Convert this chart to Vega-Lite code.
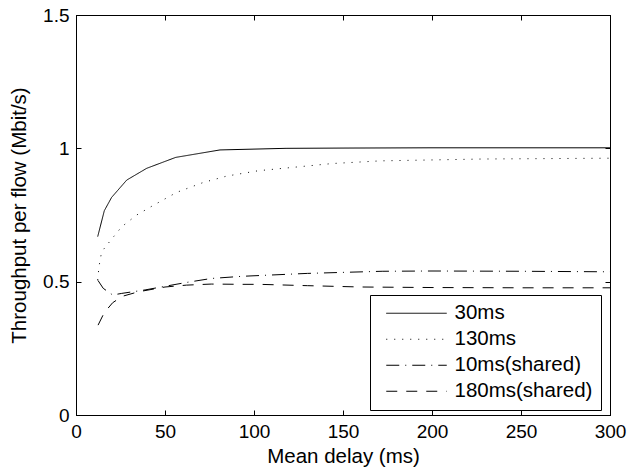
{
  "$schema": "https://vega.github.io/schema/vega-lite/v6.json",
  "autosize": {"type": "none"},
  "width": 534,
  "height": 400,
  "padding": {"left": 76, "top": 15, "right": 17, "bottom": 59},
  "background": "white",
  "config": {
    "font": "Liberation Sans",
    "view": {"stroke": "black", "strokeWidth": 1},
    "axis": {
      "grid": false,
      "domainColor": "black",
      "domainWidth": 1,
      "tickColor": "black",
      "tickWidth": 1,
      "tickSize": -5,
      "labelFlush": false,
      "labelOverlap": false,
      "labelFont": "Liberation Sans",
      "labelFontSize": 19,
      "labelColor": "black",
      "titleFont": "Liberation Sans",
      "titleFontSize": 20.5,
      "titleFontWeight": "normal",
      "titleColor": "black"
    },
    "legend": {
      "labelFont": "Liberation Sans",
      "labelFontSize": 20.5,
      "labelColor": "black"
    }
  },
  "datasets": {
    "curves": [
      {"series": "30ms", "delay": 12.2, "tput": 0.669},
      {"series": "30ms", "delay": 15.9, "tput": 0.766},
      {"series": "30ms", "delay": 20.0, "tput": 0.816},
      {"series": "30ms", "delay": 28.5, "tput": 0.881},
      {"series": "30ms", "delay": 39.7, "tput": 0.925},
      {"series": "30ms", "delay": 56.0, "tput": 0.966},
      {"series": "30ms", "delay": 80.9, "tput": 0.994},
      {"series": "30ms", "delay": 118, "tput": 1.0},
      {"series": "30ms", "delay": 150, "tput": 1.001},
      {"series": "30ms", "delay": 200, "tput": 1.002},
      {"series": "30ms", "delay": 250, "tput": 1.002},
      {"series": "30ms", "delay": 300, "tput": 1.002},
      {"series": "130ms", "delay": 12.2, "tput": 0.506},
      {"series": "130ms", "delay": 12.9, "tput": 0.556},
      {"series": "130ms", "delay": 14.4, "tput": 0.612},
      {"series": "130ms", "delay": 19.1, "tput": 0.652},
      {"series": "130ms", "delay": 25.7, "tput": 0.706},
      {"series": "130ms", "delay": 34.1, "tput": 0.75},
      {"series": "130ms", "delay": 43.4, "tput": 0.786},
      {"series": "130ms", "delay": 56.6, "tput": 0.835},
      {"series": "130ms", "delay": 71.5, "tput": 0.872},
      {"series": "130ms", "delay": 84.7, "tput": 0.896},
      {"series": "130ms", "delay": 102.4, "tput": 0.916},
      {"series": "130ms", "delay": 144, "tput": 0.943},
      {"series": "130ms", "delay": 171, "tput": 0.953},
      {"series": "130ms", "delay": 229, "tput": 0.96},
      {"series": "130ms", "delay": 300, "tput": 0.963},
      {"series": "10ms(shared)", "delay": 12.3, "tput": 0.505},
      {"series": "10ms(shared)", "delay": 15.3, "tput": 0.475},
      {"series": "10ms(shared)", "delay": 20.6, "tput": 0.45},
      {"series": "10ms(shared)", "delay": 25.7, "tput": 0.456},
      {"series": "10ms(shared)", "delay": 38.8, "tput": 0.469},
      {"series": "10ms(shared)", "delay": 52, "tput": 0.485},
      {"series": "10ms(shared)", "delay": 62, "tput": 0.497},
      {"series": "10ms(shared)", "delay": 76, "tput": 0.512},
      {"series": "10ms(shared)", "delay": 93, "tput": 0.52},
      {"series": "10ms(shared)", "delay": 103, "tput": 0.523},
      {"series": "10ms(shared)", "delay": 130, "tput": 0.531},
      {"series": "10ms(shared)", "delay": 172, "tput": 0.539},
      {"series": "10ms(shared)", "delay": 200, "tput": 0.54},
      {"series": "10ms(shared)", "delay": 250, "tput": 0.539},
      {"series": "10ms(shared)", "delay": 300, "tput": 0.537},
      {"series": "180ms(shared)", "delay": 12.4, "tput": 0.337},
      {"series": "180ms(shared)", "delay": 15.9, "tput": 0.384},
      {"series": "180ms(shared)", "delay": 20.6, "tput": 0.421},
      {"series": "180ms(shared)", "delay": 26, "tput": 0.445},
      {"series": "180ms(shared)", "delay": 35, "tput": 0.462},
      {"series": "180ms(shared)", "delay": 50, "tput": 0.48},
      {"series": "180ms(shared)", "delay": 62, "tput": 0.487},
      {"series": "180ms(shared)", "delay": 76, "tput": 0.491},
      {"series": "180ms(shared)", "delay": 93, "tput": 0.49},
      {"series": "180ms(shared)", "delay": 103, "tput": 0.49},
      {"series": "180ms(shared)", "delay": 130, "tput": 0.485},
      {"series": "180ms(shared)", "delay": 160, "tput": 0.48},
      {"series": "180ms(shared)", "delay": 200, "tput": 0.478},
      {"series": "180ms(shared)", "delay": 250, "tput": 0.477},
      {"series": "180ms(shared)", "delay": 300, "tput": 0.477}
    ]
  },
  "data": {"name": "curves"},
  "layer": [
    {
      "mark": {"type": "line", "color": "black", "strokeWidth": 1, "clip": true},
      "encoding": {
        "x": {
          "field": "delay", "type": "quantitative",
          "scale": {"domain": [0, 300], "nice": false, "zero": false},
          "axis": {"orient": "bottom", "values": [0, 50, 100, 150, 200, 250, 300], "title": "Mean delay (ms)", "labelPadding": 12, "titlePadding": 5}
        },
        "y": {
          "field": "tput", "type": "quantitative",
          "scale": {"domain": [0, 1.5], "nice": false, "zero": false},
          "axis": {"orient": "left", "values": [0, 0.5, 1, 1.5], "format": "~g", "title": "Throughput per flow (Mbit/s)", "labelPadding": 12, "titlePadding": 13}
        },
        "strokeDash": {
          "field": "series", "type": "nominal", "sort": null,
          "scale": {
            "domain": ["30ms", "130ms", "10ms(shared)", "180ms(shared)"],
            "range": [[1, 0], [1, 7], [13, 6, 1, 6], [11, 9]]
          },
          "legend": {
            "title": null,
            "orient": "none",
            "legendX": 294,
            "legendY": 280,
            "padding": 8,
            "strokeColor": "black",
            "fillColor": "white",
            "cornerRadius": 0,
            "symbolType": "M-0.4,0H11.7",
            "symbolSize": 100,
            "symbolStrokeColor": "black",
            "symbolStrokeWidth": 1,
            "symbolFillColor": "transparent",
            "labelOffset": 56,
            "rowPadding": 5
          }
        }
      }
    },
    {
      "mark": {"type": "line", "color": "black", "strokeWidth": 1, "opacity": 0},
      "encoding": {
        "x": {
          "field": "delay", "type": "quantitative",
          "scale": {"domain": [0, 300], "nice": false, "zero": false},
          "axis": {"orient": "top", "values": [0, 50, 100, 150, 200, 250, 300], "labels": false, "title": null}
        },
        "y": {
          "field": "tput", "type": "quantitative",
          "scale": {"domain": [0, 1.5], "nice": false, "zero": false},
          "axis": {"orient": "right", "values": [0, 0.5, 1, 1.5], "labels": false, "title": null}
        },
        "detail": {"field": "series"}
      }
    }
  ],
  "resolve": {"axis": {"x": "independent", "y": "independent"}}
}
